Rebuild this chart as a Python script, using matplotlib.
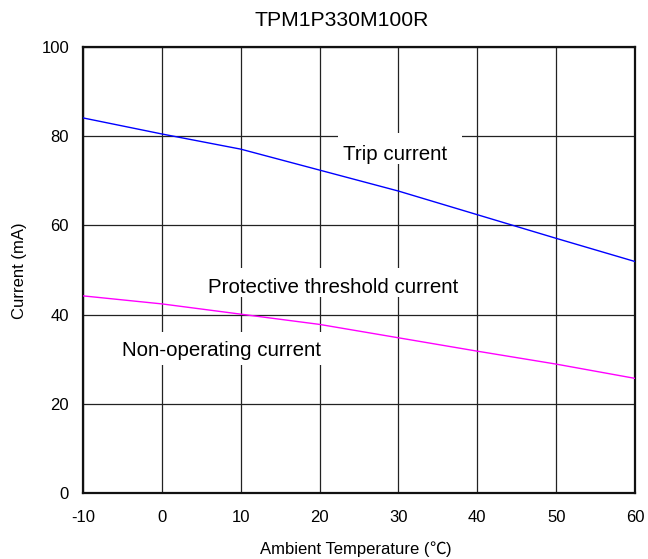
import numpy as np
import matplotlib
matplotlib.use('Agg')
import matplotlib.pyplot as plt
from matplotlib.patches import Rectangle

plt.rcParams['font.family'] = ['Liberation Sans', 'Noto Sans CJK SC', 'DejaVu Sans']
plt.rcParams['axes.unicode_minus'] = False

# values
temperature = [-10, 0, 10, 20, 30, 40, 50, 60]
trip_current = [84.1, 80.5, 77.1, 72.4, 67.7, 62.4, 57.1, 51.9]
non_operating_current = [44.2, 42.4, 40.1, 37.8, 34.8, 31.8, 28.9, 25.7]

x_ticks = [-10, 0, 10, 20, 30, 40, 50, 60]
y_ticks = [0, 20, 40, 60, 80, 100]

W, H = 648, 559
fig = plt.figure(figsize=(W / 100, H / 100), dpi=100)
ax = fig.add_axes([83 / W, 1 - 493 / H, (635 - 83) / W, (493 - 47) / H])

ax.plot(temperature, trip_current, color='#0000ff', linewidth=1.0, zorder=4)
ax.plot(temperature, non_operating_current, color='#ff00ff', linewidth=1.0, zorder=4)

ax.set_xlim(-10, 60)
ax.set_ylim(0, 100)
ax.set_xticks(x_ticks)
ax.set_yticks(y_ticks)
ax.grid(True, color='#222222', linewidth=0.9)
ax.set_axisbelow(True)
ax.tick_params(length=0, labelsize=12)
ax.tick_params(axis='x', pad=12)
ax.tick_params(axis='y', pad=10)
for s in ax.spines.values():
    s.set_linewidth(1.6)
    s.set_color('#111111')

# white text boxes of the curve labels, they hide the grid behind them
for x0, y0, x1, y1 in [(22.3, 73.8, 38.1, 80.7),
                       (5.5, 43.9, 38.4, 50.4),
                       (-5.9, 28.7, 21.1, 36.1)]:
    ax.add_patch(Rectangle((x0, y0), x1 - x0, y1 - y0, facecolor='white',
                           edgecolor='none', zorder=2))

ax.text(23.0, 74.7, 'Trip current', fontsize=14.8, ha='left', va='baseline', zorder=3)
ax.text(5.85, 44.8, 'Protective threshold current', fontsize=14.8, ha='left', va='baseline', zorder=3)
ax.text(-5.05, 30.7, 'Non-operating current', fontsize=14.8, ha='left', va='baseline', zorder=3)

fig.text(342 / W, 1 - 20 / H, 'TPM1P330M100R', fontsize=15.2, ha='center', va='center')
fig.text(20 / W, 1 - 271 / H, 'Current (mA)', fontsize=12, rotation=90, ha='center', va='center')

# x label: latin part in Liberation Sans, the degree sign from the CJK font
base_y = 1 - 554 / H
t1 = fig.text(260 / W, base_y, 'Ambient Temperature (', fontsize=12, ha='left', va='baseline')
r = fig.canvas.get_renderer()
x_next = fig.transFigure.inverted().transform((t1.get_window_extent(r).x1, 0))[0]
t2 = fig.text(x_next, base_y, '\u2103', fontsize=12, ha='left', va='baseline',
              family=['Noto Sans CJK SC'])
x_next = fig.transFigure.inverted().transform((t2.get_window_extent(r).x1, 0))[0]
fig.text(x_next, base_y, ')', fontsize=12, ha='left', va='baseline')

fig.savefig('out.png', dpi=100)
